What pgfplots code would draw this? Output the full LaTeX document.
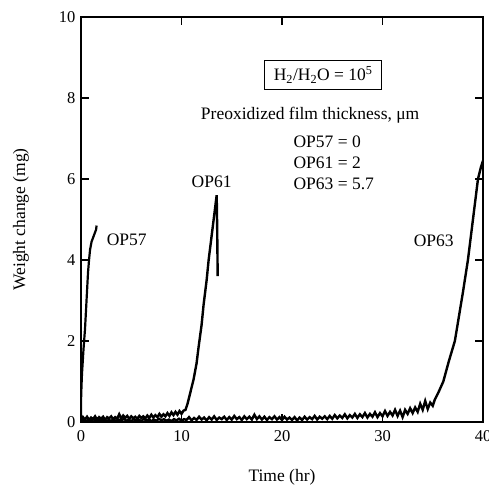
\documentclass[border=0pt]{standalone}
\usepackage{pgfplots}
\pgfplotsset{compat=1.18}
\usepackage{fontspec}
\setmainfont{Liberation Serif}
\begin{document}
\begin{tikzpicture}[font=\fontsize{17.5}{21}\selectfont]
\useasboundingbox (0,0) rectangle (489pt,486pt);
\begin{axis}[
  at={(81pt,64pt)}, anchor=south west,
  width=402pt, height=405pt, scale only axis,
  xmin=0, xmax=40, ymin=0, ymax=10,
  xtick={0,10,20,30,40}, ytick={0,2,4,6,8,10},
  tick align=inside, major tick length=8pt,
  axis line style={line width=1.2pt},
  every tick/.style={line width=1.2pt, black},
  /pgf/number format/assume math mode=true,
  ticklabel style={font=\fontsize{16.5}{19}\selectfont},
  xticklabel style={yshift=-5pt},
  yticklabel style={xshift=-2pt},
  xlabel={Time (hr)}, ylabel={Weight change (mg)},
  label style={font=\fontsize{17.5}{21}\selectfont},
  xlabel style={at={(axis description cs:0.5,0)}, anchor=center, yshift=-55pt},
  ylabel style={at={(axis description cs:0,0.5)}, anchor=center, yshift=60pt},
]
% OP57
\addplot[black, line width=2.2pt] coordinates {
(0,0) (0,0.5) (0.05,0.9) (0.1,1.2) (0.25,1.8) (0.4,2.3) (0.55,3.0) (0.7,3.7) (0.8,4.0) (0.9,4.25) (1.05,4.45) (1.2,4.55) (1.35,4.65) (1.5,4.75) (1.55,4.85)
};
% OP61
\addplot[black, line width=2.4pt] coordinates {
(0,0.02) (0.2,0.12) (0.4,0.06) (0.6,0.13) (0.8,0.05) (1.0,0.11) (1.2,0.07) (1.4,0.14) (1.6,0.06) (1.8,0.12)
(2.0,0.08) (2.2,0.13) (2.4,0.05) (2.6,0.12) (2.8,0.09) (3.0,0.14) (3.2,0.07) (3.4,0.12) (3.6,0.08) (3.8,0.19)
(4.0,0.09) (4.2,0.16) (4.4,0.10) (4.6,0.15) (4.8,0.08) (5.0,0.14) (5.2,0.09) (5.4,0.13) (5.6,0.08) (5.8,0.15)
(6.0,0.10) (6.2,0.14) (6.4,0.09) (6.6,0.16) (6.8,0.10) (7.0,0.18) (7.2,0.11) (7.4,0.17) (7.6,0.12) (7.8,0.20)
(8.0,0.13) (8.2,0.19) (8.4,0.14) (8.6,0.22) (8.8,0.15) (9.0,0.24) (9.2,0.17) (9.4,0.25) (9.6,0.18) (9.8,0.27)
(10.0,0.20) (10.2,0.28) (10.4,0.30)
(10.6,0.45) (10.8,0.65) (11.0,0.85) (11.2,1.05) (11.5,1.45) (11.7,1.85) (12.0,2.4) (12.2,2.9) (12.5,3.5) (12.7,4.0)
(13.0,4.6) (13.2,5.0) (13.4,5.4) (13.5,5.6) (13.55,4.8) (13.6,3.6)
};
% OP63
\addplot[black, line width=2.4pt] coordinates {
(0,0.01) (0.25,0.07) (0.5,0.02) (0.75,0.06) (1,0.03) (1.25,0.08) (1.5,0.02) (1.75,0.06) (2,0.03) (2.25,0.07)
(2.5,0.02) (2.75,0.05) (3,0.03) (3.25,0.07) (3.5,0.02) (3.75,0.06) (4,0.03) (4.25,0.08) (4.5,0.03) (4.75,0.06)
(5,0.02) (5.25,0.07) (5.5,0.03) (5.75,0.06) (6,0.02) (6.25,0.08) (6.5,0.03) (6.75,0.07) (7,0.02) (7.25,0.06)
(7.5,0.03) (7.75,0.08) (8,0.04) (8.25,0.07) (8.5,0.03) (8.75,0.06) (9,0.02) (9.25,0.07) (9.5,0.04) (9.75,0.08)
(10,0.03) (10.25,0.07)
(10.5,0.05) (10.75,0.12) (11,0.04) (11.25,0.10) (11.5,0.05) (11.75,0.13) (12,0.06) (12.25,0.11) (12.5,0.04) (12.75,0.12)
(13,0.06) (13.25,0.14) (13.5,0.05) (13.75,0.11) (14,0.07) (14.25,0.13) (14.5,0.05) (14.75,0.12) (15,0.06) (15.25,0.15)
(15.5,0.07) (15.75,0.12) (16,0.05) (16.25,0.14) (16.5,0.07) (16.75,0.13) (17,0.06) (17.25,0.18) (17.5,0.07) (17.75,0.14)
(18,0.06) (18.25,0.13) (18.5,0.05) (18.75,0.12) (19,0.07) (19.25,0.14) (19.5,0.06) (19.75,0.12) (20,0.05) (20.25,0.13)
(20.5,0.06) (20.75,0.11) (21,0.05) (21.25,0.12) (21.5,0.04) (21.75,0.11) (22,0.05) (22.25,0.13) (22.5,0.06) (22.75,0.12)
(23,0.07) (23.25,0.15) (23.5,0.06) (23.75,0.13) (24,0.08) (24.25,0.14) (24.5,0.07) (24.75,0.15) (25,0.08) (25.25,0.17)
(25.5,0.09) (25.75,0.16) (26,0.10) (26.25,0.19) (26.5,0.09) (26.75,0.17) (27,0.11) (27.25,0.20) (27.5,0.10) (27.75,0.19)
(28,0.12) (28.25,0.22) (28.5,0.11) (28.75,0.20) (29,0.13) (29.25,0.24) (29.5,0.12) (29.75,0.22) (30,0.14) (30.25,0.27)
(30.5,0.15) (30.75,0.25) (31,0.16) (31.25,0.30) (31.5,0.15) (31.75,0.28) (32,0.12) (32.25,0.30) (32.5,0.20) (32.75,0.34)
(33,0.22) (33.25,0.36) (33.5,0.25) (33.75,0.45) (34,0.30) (34.25,0.52) (34.5,0.32) (34.75,0.48) (35,0.40) (35.2,0.55)
(35.6,0.75) (36.05,1.0) (36.6,1.5) (37.2,2.0) (37.6,2.6) (38.0,3.2) (38.5,4.0) (38.8,4.6) (39.1,5.2) (39.5,6.0) (39.8,6.3) (40,6.45)
};
\node[draw, line width=1.1pt, inner xsep=9pt, inner ysep=6pt] at (axis cs:24.1,8.57) {H\textsubscript{2}/H\textsubscript{2}O = 10\textsuperscript{5}};
\node at (axis cs:22.8,7.58) {Preoxidized film thickness, μm};
\node[anchor=west] at (axis cs:20.8,6.92) {OP57 = 0};
\node[anchor=west] at (axis cs:20.8,6.39) {OP61 = 2};
\node[anchor=west] at (axis cs:20.8,5.87) {OP63 = 5.7};
\node at (axis cs:13.0,5.93) {OP61};
\node at (axis cs:4.55,4.49) {OP57};
\node at (axis cs:35.1,4.48) {OP63};
\end{axis}
\end{tikzpicture}
\end{document}
